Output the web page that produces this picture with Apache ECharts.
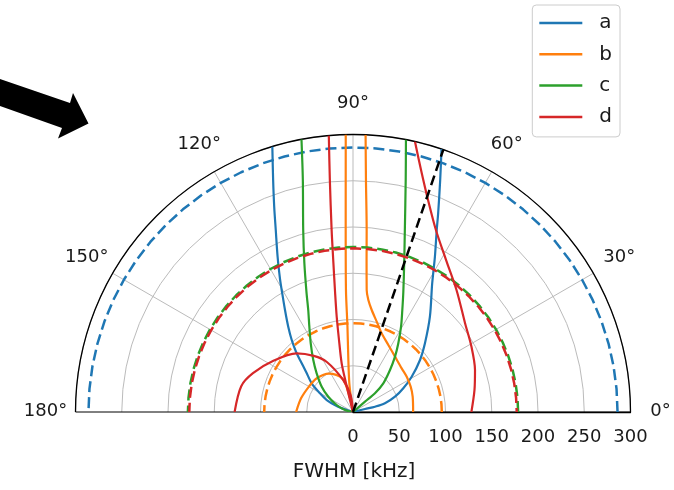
<!DOCTYPE html>
<html><head><meta charset="utf-8">
<script src="https://cdn.jsdelivr.net/npm/echarts@6/dist/echarts.min.js"></script>
<style>html,body{margin:0;padding:0;background:#fff}#chart{width:674px;height:490px}</style>
</head><body><div id="chart"></div>
<script>
// ---- data: each point is [FWHM (kHz), angle (deg)] ----
const seriesNames = ['a', 'b', 'c', 'd'];
const angleTicks = [0, 30, 60, 90, 120, 150, 180];
const radiusTicks = [0, 50, 100, 150, 200, 250, 300];
const axisName = 'FWHM [kHz]';

const aRight = [[0,14],[13.4,14],[24.5,13.5],[35.8,15.2],[48.3,20],[60.1,25.2],[74,31],[91.7,37.8],[107.6,43.7],[132.4,51.1],[163.4,58.4],[189.9,62.2],[216.6,65.3],[233.7,66.8],[267.9,69.4],[300,71.4]];
const aLeft  = [[0,163],[7.1,162],[18.8,159.8],[31.2,155.5],[41,150.5],[54.4,145.2],[66.9,139.4],[80.3,135.5],[89.7,133.4],[102.2,130.4],[115.8,127.2],[132.5,123.7],[152.8,120.3],[163,118.9],[186.6,115.9],[213.7,113],[237.7,111],[265.2,109],[300,106.9]];
const bRight = [[65,0],[66.6,14.4],[68.1,23.7],[69.5,33.3],[70.7,41.9],[75.1,52.8],[81.9,62.2],[90.6,70],[101,75.3],[112.1,79.6],[122.2,82.2],[132.7,83.6],[165,84.9],[197,85.7],[251,86.8],[300,87.4]];
const bLoop  = [[61.5,180],[58,165],[55,150],[53.5,137],[49,122],[38,107.5],[15,102],[0,97]];
const bLeft  = [[0,99],[9.5,98.5],[31.3,97.3],[60,94.9],[93.2,93.7],[132.1,93.3],[196.9,92.3],[300,91.5]];
const cRight = [[0,42],[17.1,40.6],[31.2,40.4],[45.1,43.4],[60.5,48.6],[75.1,52.8],[89,56.6],[105.8,60.6],[122.5,64.2],[141,67.3],[170,71],[204.6,74.1],[257.2,77.2],[300,79]];
const cLeft  = [[0,168],[8.9,166],[19.2,156.8],[31.4,148.2],[43.5,141],[57.4,133.2],[70.7,127.4],[87.2,121.6],[103.6,117.1],[120.4,113.7],[139.1,111.2],[169.2,108.1],[204,105.3],[256.6,102.2],[300,100.7]];
const dRight = [[128,0],[133.5,10.3],[139.5,19],[146.1,28.7],[154.7,38.5],[173,49.7],[192.6,58.5],[216.2,65.5],[243.1,70.5],[271.8,74.3],[300,77.1]];
const dLoop  = [[128,180],[124,167],[116,158.8],[102,147],[88,134],[74,125],[61,117.6],[36,107],[18,98],[0,92]];
const dLeft  = [[0,104],[13.4,104],[31.9,103.7],[54,103.1],[79.3,101],[104.5,99.7],[131.2,98.5],[162.2,97.5],[198,96.7],[252,95.7],[300,95]];
// constant-FWHM reference levels (dashed)
const aLevel = 286, bLevel = 96, cLevel = 178.5, dLevel = 177;
const levelAngles = [0,5,10,15,20,25,30,35,40,45,50,55,60,65,70,75,80,85,90,95,100,105,110,115,120,125,130,135,140,145,150,155,160,165,170,175,180];
// dashed black direction
const guideLine = [[0,71],[300,71]];

const colors = {a:'#1f77b4', b:'#ff7f0e', c:'#2ca02c', d:'#d62728'};
const FONT = 'DejaVu Sans';
const TEXT = '#1a1a1a';

function solid(name, data) {
  return {name, type:'line', coordinateSystem:'polar', data, showSymbol:false, symbol:'none',
    smooth:0.3, lineStyle:{color:colors[name], width:2.2}, itemStyle:{color:colors[name]}, silent:true, z:3};
}
function level(name, r, offset) {
  return {name, type:'line', coordinateSystem:'polar', data: levelAngles.map(t => [r, t]),
    showSymbol:false, symbol:'none', smooth:false,
    lineStyle:{color:colors[name], width:2.5, type:[11,5], dashOffset:offset||0}, itemStyle:{color:colors[name]}, silent:true, z:3};
}

const chart = echarts.init(document.getElementById('chart'), null, {renderer:'canvas'});
chart.setOption({
  animation:false,
  backgroundColor:'#fff',
  textStyle:{fontFamily:FONT},
  polar:{center:[353,412], radius:277.5},
  angleAxis:{type:'value', min:0, max:180, interval:30, startAngle:0, endAngle:180, clockwise:false,
    axisLine:{lineStyle:{color:'#000', width:1.3}}, axisTick:{show:false}, axisLabel:{show:false},
    splitLine:{show:true, lineStyle:{color:['#000','#bbb','#bbb','#bbb','#bbb','#bbb','#000'], width:1}}},
  radiusAxis:{type:'value', min:0, max:300, interval:50,
    axisLine:{lineStyle:{color:'#000', width:1.3}}, axisTick:{show:false}, axisLabel:{show:false},
    splitLine:{show:true, lineStyle:{color:'#bbb', width:1}}},
  legend:{data:seriesNames, orient:'vertical', right:54, top:5, padding:[7,8,9,7], itemGap:9.3,
    icon:'rect', itemWidth:43, itemHeight:2.5, borderColor:'#ccc', borderWidth:1, borderRadius:4, backgroundColor:'#fff',
    textStyle:{fontSize:20, color:TEXT, fontFamily:FONT, lineHeight:22, padding:[0,0,0,12]}},
  series:[
    solid('a', aRight), solid('a', aLeft), level('a', aLevel),
    solid('b', bRight), solid('b', bLoop), solid('b', bLeft), level('b', bLevel),
    solid('c', cRight), solid('c', cLeft), level('c', cLevel),
    solid('d', dRight), solid('d', dLoop), solid('d', dLeft), level('d', dLevel, 7),
    {name:'guide', type:'line', coordinateSystem:'polar', data:guideLine, showSymbol:false, symbol:'none',
      lineStyle:{color:'#000', width:2.5, type:[10,5]}, silent:true, z:4}
  ]
});

// tick labels placed through the polar coordinate system
const origin = chart.convertToPixel({polarIndex:0}, [0, 0]);
const graphics = [];
const outerPx = chart.convertToPixel({polarIndex:0}, [300, 0])[0] - origin[0];
angleTicks.forEach(t => {
  const p = chart.convertToPixel({polarIndex:0}, [300, t]);
  const ux = (p[0] - origin[0]) / outerPx, uy = (p[1] - origin[1]) / outerPx;
  const d = outerPx + 30;
  graphics.push({type:'text', x: origin[0] + ux * d, y: origin[1] + uy * d - 1,
    style:{text: t + '°', fontSize:18, fill:TEXT, fontFamily:FONT, align:'center', verticalAlign:'middle'}});
});
radiusTicks.forEach(v => {
  const p = chart.convertToPixel({polarIndex:0}, [v, 0]);
  graphics.push({type:'text', x: p[0], y: p[1] + 25,
    style:{text: String(v), fontSize:18, fill:TEXT, fontFamily:FONT, align:'center', verticalAlign:'middle'}});
});
graphics.push({type:'text', x: origin[0] + 1, y: origin[1] + 60,
  style:{text: axisName, fontSize:20, fill:TEXT, fontFamily:FONT, align:'center', verticalAlign:'middle'}});
graphics.push({type:'polygon', shape:{points:[[0,79],[70,103],[73,93],[88.5,123.5],[58,138.5],[62,128],[0,106]]}, style:{fill:'#000'}});
chart.setOption({graphic: graphics});
</script></body></html>
